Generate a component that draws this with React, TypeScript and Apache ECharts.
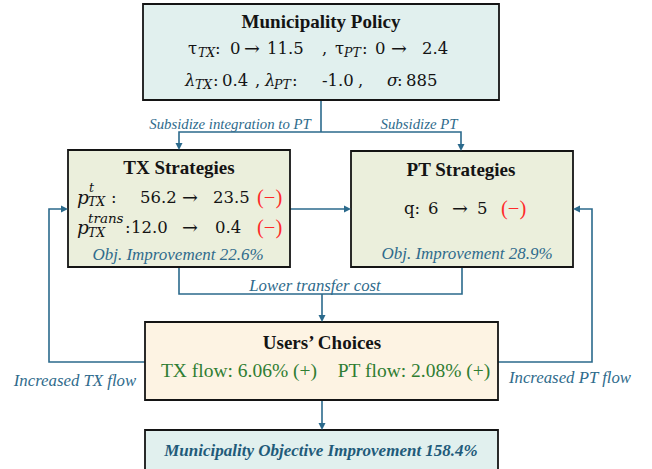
import React, { useEffect, useRef } from "react";
import * as echarts from "echarts";

// ---- data ----
const tauTX = [0, 11.5];
const tauPT = [0, 2.4];
const lambdaVals = [0.4, -1.0];
const sigmaVals = [885];
const pTXt = [56.2, 23.5];
const pTXtrans = [12.0, 0.4];
const qVals = [6, 5];
const objImprovements = [22.6, 28.9];
const flowChanges = [6.06, 2.08];
const municipalImprovement = [158.4];
const boxTitles = ["Municipality Policy", "TX Strategies", "PT Strategies", "Users\u2019 Choices"];
const edgeLabels = ["Subsidize integration to PT", "Subsidize PT", "Lower transfer cost", "Increased TX flow", "Increased PT flow"];

const FONT = '"Liberation Serif", "Times New Roman", serif';
const MATH = '"DejaVu Serif", "Cambria Math", serif';
const LINE = "#2b6a8c";
const LABEL = "#2f6b8c";
const RED = "#ff2a2a";
const GREEN = "#2f7d32";
const DARK = "#141414";

type O = { size?: number; italic?: boolean; bold?: boolean; color?: string; align?: string; math?: boolean };
function txt(x: number, y: number, text: string, o: O = {}) {
  return {
    type: "text",
    x,
    y,
    silent: true,
    z: 10,
    style: {
      text,
      fontFamily: o.math ? MATH : FONT,
      fontSize: o.size ?? 18,
      fontStyle: o.italic ? "italic" : "normal",
      fontWeight: o.bold ? "bold" : "normal",
      fill: o.color ?? DARK,
      align: o.align ?? "left",
      verticalAlign: "middle",
    },
  };
}
const M = (x: number, y: number, text: string, o: O = {}) => txt(x, y, text, { size: 16.5, math: true, ...o });
const AR = (x: number, y: number) => txt(x, y, "\u2192", { size: 19, math: true });
function box(x: number, y: number, w: number, h: number, fill: string) {
  return {
    type: "rect",
    z: 2,
    shape: { x, y, width: w, height: h },
    style: { fill, stroke: DARK, lineWidth: 1.8 },
  };
}
function pl(points: number[][]) {
  return {
    type: "polyline",
    z: 1,
    shape: { points },
    style: { stroke: LINE, lineWidth: 1.6, fill: null },
  };
}
const AL = 7;
const AW = 3.5;
function arrowDown(x: number, tip: number) {
  return { type: "polygon", z: 3, shape: { points: [[x - AW, tip - AL], [x + AW, tip - AL], [x, tip]] }, style: { fill: LINE } };
}
function arrowRight(tip: number, y: number) {
  return { type: "polygon", z: 3, shape: { points: [[tip - AL, y - AW], [tip - AL, y + AW], [tip, y]] }, style: { fill: LINE } };
}
function arrowLeft(tip: number, y: number) {
  return { type: "polygon", z: 3, shape: { points: [[tip + AL, y - AW], [tip + AL, y + AW], [tip, y]] }, style: { fill: LINE } };
}

const f1 = (v: number) => v.toFixed(1);
const MINUS = "(\u2212)";

function buildGraphics() {
  const g: any[] = [];
  // boxes
  g.push(box(143, 4, 356, 96, "#e1f0ee"));
  g.push(box(68, 150, 222, 117, "#ebefdc"));
  g.push(box(351, 151, 222, 116, "#ebefdc"));
  g.push(box(145, 322, 353, 78, "#fdf3e3"));
  g.push(box(145, 430, 353, 60, "#e1f0ee"));

  // connectors
  g.push(pl([[321, 100], [321, 132]]));
  g.push(pl([[179, 145], [179, 132], [461, 132], [461, 146]]));
  g.push(arrowDown(179, 150));
  g.push(arrowDown(461, 151));
  g.push(pl([[290, 209], [346, 209]]));
  g.push(arrowRight(351, 209));
  g.push(pl([[179, 267], [179, 294], [462, 294], [462, 267]]));
  g.push(pl([[322, 294], [322, 317]]));
  g.push(arrowDown(322, 322));
  g.push(pl([[145, 362], [49, 362], [49, 209], [63, 209]]));
  g.push(arrowRight(68, 209));
  g.push(pl([[498, 362], [592, 362], [592, 209], [578, 209]]));
  g.push(arrowLeft(573, 209));
  g.push(pl([[322, 400], [322, 425]]));
  g.push(arrowDown(322, 430));

  // edge labels
  g.push(txt(230, 124, edgeLabels[0], { size: 14.8, italic: true, color: LABEL, align: "center" }));
  g.push(txt(419, 124, edgeLabels[1], { size: 14.8, italic: true, color: LABEL, align: "center" }));
  g.push(txt(315, 285, edgeLabels[2], { size: 16.8, italic: true, color: LABEL, align: "center" }));
  g.push(txt(75, 380, edgeLabels[3], { size: 16.8, italic: true, color: LABEL, align: "center" }));
  g.push(txt(570, 377, edgeLabels[4], { size: 16.8, italic: true, color: LABEL, align: "center" }));

  // Municipality Policy box
  g.push(txt(321, 21, boxTitles[0], { size: 19, bold: true, align: "center" }));
  const y2 = 48;
  const sub = { size: 12.5, italic: true };
  g.push(M(188, y2, "\u03c4"));
  g.push(M(198, y2 + 4, "TX", sub));
  g.push(M(215, y2, ":"));
  g.push(M(230, y2, String(tauTX[0])));
  g.push(AR(244, y2));
  g.push(M(267, y2, f1(tauTX[1])));
  g.push(M(322, y2, ","));
  g.push(M(335, y2, "\u03c4"));
  g.push(M(344, y2 + 4, "PT", sub));
  g.push(M(362, y2, ":"));
  g.push(M(375, y2, String(tauPT[0])));
  g.push(AR(391, y2));
  g.push(M(422, y2, f1(tauPT[1])));

  const y3 = 80;
  g.push(M(185, y3, "\u03bb", { italic: true }));
  g.push(M(195, y3 + 4, "TX", sub));
  g.push(M(213, y3, ":"));
  g.push(M(222, y3, f1(lambdaVals[0])));
  g.push(M(255, y3, ","));
  g.push(M(265, y3, "\u03bb", { italic: true }));
  g.push(M(274, y3 + 4, "PT", sub));
  g.push(M(292, y3, ":"));
  g.push(M(322, y3, f1(lambdaVals[1])));
  g.push(M(358, y3, ","));
  g.push(M(387, y3, "\u03c3", { italic: true }));
  g.push(M(397, y3, ":"));
  g.push(M(406, y3, String(sigmaVals[0])));

  // TX strategies
  g.push(txt(179, 167, boxTitles[1], { size: 19, bold: true, align: "center" }));
  const r1 = 197;
  g.push(M(77, r1, "p", { size: 18.5, italic: true }));
  g.push(M(89, r1 - 10, "t", sub));
  g.push(M(88, r1 + 4, "TX", sub));
  g.push(M(111, r1, ":"));
  g.push(M(140, r1, f1(pTXt[0])));
  g.push(AR(182, r1));
  g.push(M(213, r1, f1(pTXt[1])));
  g.push(txt(257, r1, MINUS, { color: RED, size: 20.5 }));
  const r2 = 227;
  g.push(M(77, r2, "p", { size: 18.5, italic: true }));
  g.push(M(88, r2 - 9, "trans", { size: 13.5, italic: true }));
  g.push(M(88, r2 + 5, "TX", sub));
  g.push(M(125, r2, ":"));
  g.push(M(131, r2, f1(pTXtrans[0])));
  g.push(AR(182, r2));
  g.push(M(215, r2, f1(pTXtrans[1])));
  g.push(txt(257, r2, MINUS, { color: RED, size: 20.5 }));
  g.push(txt(178, 254, `Obj. Improvement ${objImprovements[0]}%`, { size: 17, italic: true, color: LABEL, align: "center" }));

  // PT strategies
  g.push(txt(461, 169, boxTitles[2], { size: 19, bold: true, align: "center" }));
  const rp = 208;
  g.push(M(404, rp, "q:"));
  g.push(M(428, rp, String(qVals[0])));
  g.push(AR(452, rp));
  g.push(M(477, rp, String(qVals[1])));
  g.push(txt(501, rp, MINUS, { color: RED, size: 20.5 }));
  g.push(txt(467, 253, `Obj. Improvement ${objImprovements[1]}%`, { size: 17, italic: true, color: LABEL, align: "center" }));

  // Users' choices
  g.push(txt(322, 342, boxTitles[3], { size: 19, bold: true, align: "center" }));
  g.push(txt(239, 370, `TX flow: ${flowChanges[0].toFixed(2)}% (+)`, { size: 19.5, color: GREEN, align: "center" }));
  g.push(txt(414, 370, `PT flow: ${flowChanges[1].toFixed(2)}% (+)`, { size: 19.5, color: GREEN, align: "center" }));

  // Bottom
  g.push(txt(321, 450, `Municipality Objective Improvement ${municipalImprovement[0]}%`, { size: 17, bold: true, italic: true, color: "#1f5b7a", align: "center" }));
  return g;
}

export default function App() {
  const ref = useRef<HTMLDivElement>(null);
  useEffect(() => {
    if (!ref.current) return;
    const chart = echarts.init(ref.current, undefined, { renderer: "svg" });
    chart.setOption({
      animation: false,
      backgroundColor: "#ffffff",
      graphic: { elements: buildGraphics() },
    });
    return () => chart.dispose();
  }, []);
  return (
    <div
      ref={ref}
      style={{ position: "fixed", left: 0, top: 0, width: 652, height: 469 }}
    />
  );
}
